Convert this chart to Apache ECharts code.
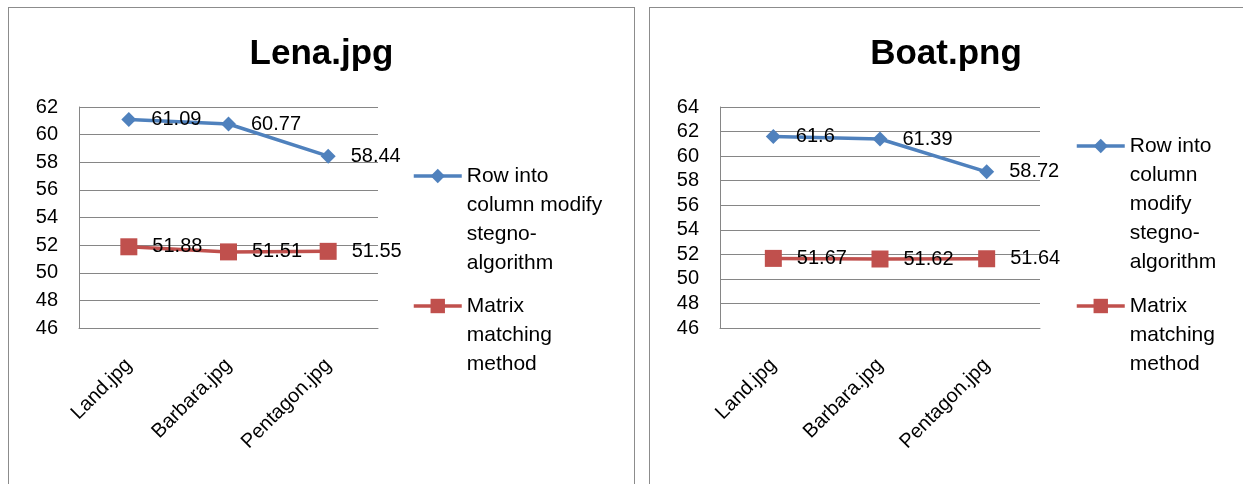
<!DOCTYPE html>
<html>
<head>
<meta charset="utf-8">
<script src="https://cdn.jsdelivr.net/npm/echarts@6/dist/echarts.min.js"></script>
<style>
    body { margin: 0; background: #fff; width: 1243px; height: 484px; overflow: hidden; position: relative; }
    .panel { position: absolute; top: 7px; height: 500px; border: 1px solid #8c8c8c; background: #fff; }
    #p1 { left: 8px; width: 625px; }
    #p2 { left: 649px; width: 610px; }
    .chart { position: absolute; left: 0; top: 0; height: 476px; }
</style>
</head>
<body>
<div class="panel" id="p1"><div class="chart" id="lena" style="width:625px"></div></div>
<div class="panel" id="p2"><div class="chart" id="boat" style="width:592px"></div></div>
<script>
var categories = ['Land.jpg', 'Barbara.jpg', 'Pentagon.jpg'];
var rowName = 'Row into column modify stegno-algorithm';
var matrixName = 'Matrix matching method';

var lenaRow = [61.09, 60.77, 58.44];
var lenaMatrix = [51.88, 51.51, 51.55];
var boatRow = [61.6, 61.39, 58.72];
var boatMatrix = [51.67, 51.62, 51.64];

var FONT = '"Liberation Sans", Arial, sans-serif';
var GRID_COLOR = '#868686';

function DrawPanel(domId, title, yMax, rowData, matrixData, conf) {
    var myChart = echarts.init(document.getElementById(domId));
    var labelStyle = {
        show: true,
        position: 'right',
        distance: 15,
        color: '#000',
        fontSize: 20,
        fontFamily: FONT
    };
    var option = {
        animation: false,
        title: {
            text: title,
            left: 'center',
            top: 29,
            padding: 0,
            textStyle: { fontSize: 35, fontWeight: 'bold', color: '#000', fontFamily: FONT }
        },
        legend: {
            orient: 'vertical',
            left: conf.legendLeft,
            top: conf.legendTop,
            padding: 0,
            itemGap: conf.legendGap,
            itemWidth: 48,
            itemHeight: 18,
            lineStyle: { width: 3.5 },
            data: [rowName, matrixName],
            formatter: function (name) {
                return name == rowName ? conf.rowText : conf.matrixText;
            },
            textStyle: { fontSize: 21, lineHeight: 29, color: '#000', fontFamily: FONT }
        },
        grid: { left: 70, top: 99, width: conf.gridWidth, height: 221 },
        xAxis: {
            type: 'category',
            data: categories,
            axisLine: { show: true, lineStyle: { color: GRID_COLOR, width: 1 } },
            axisTick: { show: false },
            axisLabel: { rotate: 45, margin: 34, fontSize: 20, color: '#000', fontFamily: FONT }
        },
        yAxis: {
            type: 'value',
            min: 46,
            max: yMax,
            interval: 2,
            axisLine: { show: true, lineStyle: { color: GRID_COLOR, width: 1 } },
            axisTick: { show: false },
            splitLine: { lineStyle: { color: GRID_COLOR, width: 1 } },
            axisLabel: { margin: 21, fontSize: 20, color: '#000', fontFamily: FONT }
        },
        series: [{
            name: rowName,
            type: 'line',
            data: rowData,
            symbol: 'diamond',
            symbolSize: 15,
            color: '#4F81BD',
            lineStyle: { width: 3.5, color: '#4F81BD' },
            itemStyle: { color: '#4F81BD' },
            label: labelStyle
        }, {
            name: matrixName,
            type: 'line',
            data: matrixData,
            symbol: 'rect',
            symbolSize: 17,
            color: '#C0504D',
            lineStyle: { width: 3.5, color: '#C0504D' },
            itemStyle: { color: '#C0504D' },
            label: labelStyle
        }]
    };
    myChart.setOption(option, true);
}

DrawPanel('lena', 'Lena.jpg', 62, lenaRow, lenaMatrix, {
    gridWidth: 299,
    legendLeft: 403,
    legendTop: 66.5,
    legendGap: -44,
    rowText: '\n\n\nRow into\ncolumn modify\nstegno-\nalgorithm',
    matrixText: '\n\nMatrix\nmatching\nmethod'
});

DrawPanel('boat', 'Boat.png', 64, boatRow, boatMatrix, {
    gridWidth: 320,
    legendLeft: 425,
    legendTop: 7.5,
    legendGap: -43,
    rowText: '\n\n\n\nRow into\ncolumn\nmodify\nstegno-\nalgorithm',
    matrixText: '\n\nMatrix\nmatching\nmethod'
});
</script>
</body>
</html>
